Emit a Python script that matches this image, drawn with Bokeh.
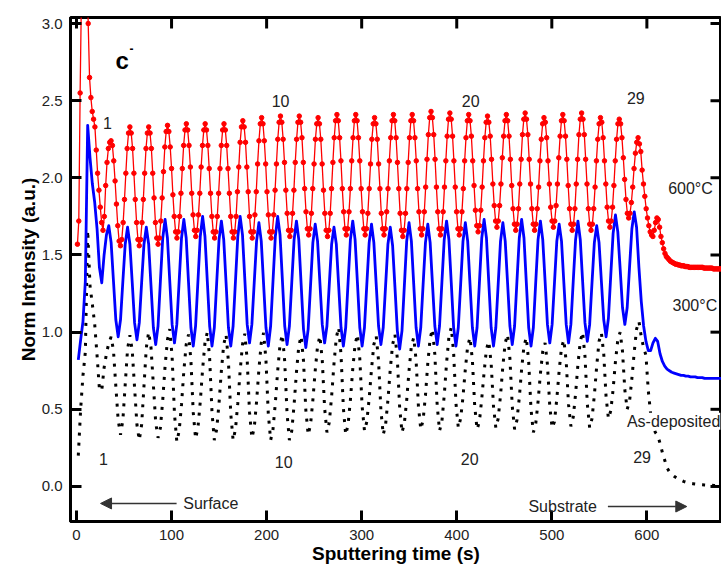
from bokeh.plotting import figure
from bokeh.models import Range1d, FixedTicker, PrintfTickFormatter, Label, Arrow, NormalHead
from bokeh.embed import file_html
from bokeh.resources import INLINE

# ---------------- data ----------------
# 600 °C anneal (red, markers): one reading every RED_DT seconds from RED_T0
RED_T0, RED_DT = 1.0, 1.4143
red_600C = [
    1.57, 1.72, 2.55, 3.2, 3.6, 3.8, 3.7, 3.4, 3.0, 2.65, 2.52, 2.43, 2.38, 2.33, 2.18, 2.03,
    1.92, 1.81, 1.71, 1.66, 1.75, 1.95, 2.10, 2.19, 2.23,
    2.24, 2.21, 2.11, 1.98, 1.83, 1.69, 1.59, 1.56, 1.60, 1.71, 1.86, 2.03, 2.19, 2.29,
    2.33, 2.29, 2.19, 2.03, 1.86, 1.71, 1.60, 1.56, 1.60, 1.71, 1.86, 2.03, 2.19, 2.29,
    2.33, 2.29, 2.19, 2.03, 1.87, 1.71, 1.61, 1.57, 1.61, 1.72, 1.87, 2.04, 2.20, 2.30,
    2.34, 2.30, 2.20, 2.06, 1.89, 1.75, 1.65, 1.61, 1.65, 1.75, 1.90, 2.06, 2.21, 2.31,
    2.35, 2.31, 2.21, 2.07, 1.90, 1.76, 1.66, 1.62, 1.66, 1.76, 1.90, 2.07, 2.21, 2.31,
    2.35, 2.31, 2.21, 2.06, 1.90, 1.75, 1.65, 1.61, 1.65, 1.75, 1.90, 2.06, 2.21, 2.31,
    2.35, 2.31, 2.21, 2.06, 1.90, 1.75, 1.65, 1.61, 1.65, 1.75, 1.91, 2.07, 2.23, 2.33,
    2.37, 2.33, 2.23, 2.07, 1.91, 1.75, 1.65, 1.61, 1.65, 1.76, 1.91, 2.09, 2.24, 2.35,
    2.39, 2.35, 2.24, 2.09, 1.91, 1.76, 1.65, 1.61, 1.65, 1.76, 1.92, 2.09, 2.25, 2.36,
    2.40, 2.36, 2.25, 2.10, 1.92, 1.77, 1.66, 1.62, 1.66, 1.77, 1.92, 2.10, 2.25, 2.36,
    2.40, 2.36, 2.26, 2.10, 1.93, 1.78, 1.67, 1.63, 1.67, 1.77, 1.93, 2.09, 2.25, 2.35,
    2.39, 2.35, 2.25, 2.09, 1.92, 1.77, 1.66, 1.62, 1.66, 1.77, 1.93, 2.10, 2.26, 2.37,
    2.41, 2.37, 2.26, 2.11, 1.93, 1.78, 1.67, 1.63, 1.67, 1.78, 1.93, 2.11, 2.26, 2.37,
    2.41, 2.37, 2.26, 2.11, 1.93, 1.78, 1.67, 1.63, 1.67, 1.77, 1.93, 2.09, 2.25, 2.35,
    2.39, 2.35, 2.25, 2.09, 1.93, 1.77, 1.67, 1.63, 1.67, 1.78, 1.93, 2.11, 2.26, 2.37,
    2.41, 2.37, 2.26, 2.10, 1.93, 1.77, 1.66, 1.62, 1.66, 1.77, 1.93, 2.10, 2.26, 2.37,
    2.41, 2.37, 2.26, 2.11, 1.93, 1.78, 1.67, 1.63, 1.67, 1.78, 1.94, 2.12, 2.28, 2.39,
    2.43, 2.39, 2.28, 2.12, 1.94, 1.78, 1.67, 1.63, 1.67, 1.78, 1.94, 2.11, 2.27, 2.38,
    2.42, 2.38, 2.27, 2.11, 1.94, 1.78, 1.67, 1.63, 1.67, 1.78, 1.93, 2.11, 2.26, 2.37,
    2.41, 2.37, 2.27, 2.11, 1.95, 1.79, 1.69, 1.65, 1.69, 1.79, 1.94, 2.11, 2.26, 2.36,
    2.40, 2.36, 2.27, 2.12, 1.96, 1.82, 1.72, 1.68, 1.72, 1.82, 1.96, 2.13, 2.27, 2.37,
    2.41, 2.37, 2.27, 2.12, 1.95, 1.80, 1.70, 1.66, 1.70, 1.80, 1.96, 2.12, 2.28, 2.38,
    2.42, 2.38, 2.28, 2.12, 1.96, 1.80, 1.70, 1.66, 1.70, 1.80, 1.94, 2.11, 2.25, 2.35,
    2.39, 2.36, 2.26, 2.11, 1.96, 1.81, 1.72, 1.68, 1.72, 1.82, 1.96, 2.13, 2.27, 2.37,
    2.41, 2.37, 2.27, 2.12, 1.95, 1.80, 1.70, 1.66, 1.70, 1.80, 1.96, 2.12, 2.28, 2.38,
    2.42, 2.38, 2.28, 2.12, 1.96, 1.80, 1.70, 1.66, 1.70, 1.80, 1.94, 2.11, 2.25, 2.35,
    2.39, 2.36, 2.26, 2.11, 1.96, 1.81, 1.72, 1.68, 1.72, 1.81, 1.95, 2.11, 2.25, 2.35,
    2.38, 2.35, 2.26, 2.13, 1.99, 1.86, 1.77, 1.74, 1.77, 1.84, 1.94, 2.06, 2.16, 2.23,
    2.26,
    2.22, 2.17, 2.05, 1.96, 1.88, 1.80, 1.74, 1.69, 1.65, 1.63, 1.62, 1.66, 1.71, 1.74, 1.73,
    1.68, 1.62, 1.58, 1.54, 1.51, 1.49, 1.48, 1.47, 1.46, 1.455, 1.45, 1.445, 1.44, 1.44,
    1.435, 1.435, 1.43, 1.43, 1.43, 1.425, 1.425, 1.425, 1.42, 1.42, 1.42, 1.42, 1.42, 1.42,
    1.42, 1.42, 1.42, 1.42, 1.42, 1.415, 1.415, 1.415, 1.415, 1.415, 1.415, 1.415, 1.41,
    1.41, 1.41, 1.41, 1.41, 1.41, 1.41,
]

# 300 °C (blue line) and as-deposited (black dotted) share one time grid
GRID_T0, GRID_DT = 1.9, 2.4675
blue_300C = [
    0.82, 0.95, 1.07, 1.33, 2.34, 2.13, 1.96, 1.84, 1.67, 1.42, 1.32, 1.50, 1.63,
    1.69, 1.58, 1.33, 1.08, 0.97, 1.08, 1.33, 1.57,
    1.68, 1.57, 1.32, 1.06, 0.95, 1.06, 1.32, 1.57,
    1.68, 1.57, 1.30, 1.03, 0.92, 1.04, 1.33, 1.61,
    1.73, 1.61, 1.33, 1.05, 0.93, 1.05, 1.33, 1.61,
    1.73, 1.61, 1.32, 1.03, 0.91, 1.04, 1.33, 1.62,
    1.75, 1.62, 1.33, 1.04, 0.91, 1.03, 1.32, 1.60,
    1.72, 1.60, 1.32, 1.03, 0.91, 1.04, 1.33, 1.62,
    1.75, 1.63, 1.34, 1.05, 0.93, 1.05, 1.32, 1.59,
    1.71, 1.59, 1.31, 1.03, 0.91, 1.04, 1.33, 1.62,
    1.75, 1.63, 1.34, 1.04, 0.92, 1.04, 1.32, 1.60,
    1.72, 1.60, 1.31, 1.02, 0.90, 1.02, 1.30, 1.58,
    1.70, 1.59, 1.32, 1.05, 0.93, 1.04, 1.31, 1.57,
    1.68, 1.57, 1.30, 1.03, 0.91, 1.03, 1.32, 1.60,
    1.72, 1.60, 1.32, 1.03, 0.91, 1.03, 1.31, 1.58,
    1.70, 1.58, 1.31, 1.04, 0.92, 1.03, 1.30, 1.57,
    1.68, 1.56, 1.29, 1.01, 0.89, 1.01, 1.30, 1.59,
    1.71, 1.59, 1.31, 1.03, 0.91, 1.03, 1.31, 1.58,
    1.70, 1.58, 1.31, 1.04, 0.92, 1.04, 1.32, 1.60,
    1.72, 1.60, 1.32, 1.03, 0.91, 1.03, 1.31, 1.59,
    1.71, 1.59, 1.31, 1.03, 0.91, 1.03, 1.32, 1.61,
    1.73, 1.61, 1.32, 1.03, 0.91, 1.03, 1.31, 1.59,
    1.71, 1.59, 1.32, 1.04, 0.92, 1.04, 1.33, 1.61,
    1.73, 1.61, 1.32, 1.03, 0.91, 1.03, 1.32, 1.60,
    1.72, 1.60, 1.33, 1.05, 0.93, 1.05, 1.32, 1.59,
    1.70, 1.59, 1.32, 1.05, 0.93, 1.05, 1.33, 1.60,
    1.72, 1.60, 1.33, 1.06, 0.94, 1.05, 1.32, 1.58,
    1.69, 1.58, 1.33, 1.08, 0.97, 1.09, 1.37, 1.64,
    1.76, 1.65, 1.41, 1.16, 1.05, 1.16, 1.42, 1.67,
    1.78,
    1.68, 1.42, 1.20, 1.04, 0.94, 0.88, 0.88, 0.93, 0.96, 0.94,
    0.86, 0.81, 0.78, 0.76, 0.75, 0.74, 0.735, 0.73, 0.725, 0.72,
    0.72, 0.715, 0.715, 0.71, 0.71, 0.71, 0.705, 0.705, 0.705, 0.70,
    0.70, 0.70, 0.70, 0.70, 0.70, 0.70, 0.70,
]

black_asdep = [
    0.20, 0.50, 0.72, 0.87, 1.66, 1.30, 1.18, 1.05, 0.85, 0.63, 0.62, 0.77, 0.86, 0.93,
    0.97, 0.88, 0.65, 0.43, 0.335, 0.43, 0.66, 0.89,
    0.98, 0.88, 0.64, 0.40, 0.30, 0.40, 0.65, 0.90,
    1.00, 0.90, 0.66, 0.415, 0.315, 0.38, 0.56, 0.78, 0.95,
    1.02, 0.84, 0.47, 0.29, 0.36, 0.53, 0.75, 0.92,
    0.985, 0.82, 0.48, 0.31, 0.38, 0.55, 0.76, 0.93,
    1.00, 0.83, 0.48, 0.30, 0.37, 0.54, 0.75, 0.92,
    0.985, 0.81, 0.47, 0.30, 0.37, 0.54, 0.75, 0.92,
    0.99, 0.82, 0.48, 0.315, 0.38, 0.55, 0.76, 0.93,
    0.995, 0.82, 0.47, 0.30, 0.37, 0.54, 0.75, 0.92,
    0.985, 0.81, 0.47, 0.30, 0.36, 0.53, 0.74, 0.91,
    0.975, 0.815, 0.495, 0.335, 0.40, 0.56, 0.75, 0.91,
    0.975, 0.82, 0.51, 0.35, 0.415, 0.585, 0.795, 0.965,
    1.03, 0.856, 0.51, 0.335, 0.40, 0.56, 0.76, 0.92,
    0.985, 0.83, 0.52, 0.36, 0.42, 0.57, 0.76, 0.92,
    0.975, 0.815, 0.495, 0.335, 0.40, 0.56, 0.76, 0.92,
    0.985, 0.83, 0.51, 0.35, 0.41, 0.56, 0.75, 0.91,
    0.965, 0.82, 0.52, 0.37, 0.43, 0.59, 0.80, 0.96,
    1.02, 0.855, 0.525, 0.36, 0.42, 0.59, 0.80, 0.97,
    1.03, 0.87, 0.54, 0.38, 0.44, 0.58, 0.76, 0.91,
    0.965, 0.82, 0.52, 0.37, 0.42, 0.57, 0.74, 0.89,
    0.94, 0.80, 0.52, 0.38, 0.44, 0.59, 0.78, 0.93,
    0.985, 0.83, 0.52, 0.37, 0.43, 0.575, 0.76, 0.91,
    0.965, 0.81, 0.50, 0.35, 0.405, 0.55, 0.73, 0.875,
    0.93, 0.79, 0.52, 0.38, 0.42, 0.57, 0.75, 0.90,
    0.95, 0.81, 0.53, 0.39, 0.45, 0.60, 0.79, 0.94,
    1.00, 0.845, 0.535, 0.38, 0.44, 0.59, 0.78, 0.94,
    0.995, 0.86, 0.58, 0.44, 0.49, 0.63, 0.81, 0.95,
    1.00, 0.875, 0.625, 0.50, 0.55, 0.70, 0.87, 1.02,
    1.07,
    0.97, 0.90, 0.85, 0.62, 0.47, 0.40, 0.35, 0.33, 0.28, 0.22,
    0.17, 0.12, 0.095, 0.078, 0.066, 0.056, 0.047, 0.040, 0.033, 0.028,
    0.023, 0.020, 0.018, 0.016, 0.014, 0.012, 0.011, 0.010, 0.009, 0.008,
    0.008, 0.007, 0.007, 0.007, 0.006,
]

x_ticks = [0, 100, 200, 300, 400, 500, 600]
y_ticks = [0.0, 0.5, 1.0, 1.5, 2.0, 2.5, 3.0]

layer_numbers = ["1", "10", "20", "29"]
layer_numbers_upper_x = [32.6, 214.7, 414.7, 588.4]
layer_numbers_upper_y = [2.357, 2.495, 2.495, 2.516]
layer_numbers_lower_x = [28.4, 217.9, 413.7, 595.0]
layer_numbers_lower_y = [0.179, 0.157, 0.180, 0.190]

series_names = ["600°C", "300°C", "As-deposited"]
series_name_x = [622.4, 627.0, 579.0]
series_name_y = [1.932, 1.170, 0.422]

red_time = [round(RED_T0 + i * RED_DT, 3) for i in range(len(red_600C))]
grid_time = [round(GRID_T0 + i * GRID_DT, 3) for i in range(len(blue_300C))]

# ---------------- figure ----------------
FONT = "Liberation Sans"
TXT = "#222222"
X0, X1 = -6.3, 678.5
Y0, Y1 = -0.227, 3.039
FRAME_W, FRAME_H = 651, 503      # frame size in px, used to size mirrored tick marks
TICK_PX = 11

p = figure(width=721, height=566,
           x_range=Range1d(X0, X1), y_range=Range1d(Y0, Y1),
           output_backend="svg", toolbar_location=None,
           min_border_left=70, min_border_right=0, min_border_top=17, min_border_bottom=0,
           x_axis_label="Sputtering time (s)", y_axis_label="Norm Intensity (a.u.)")
p.grid.visible = False
p.outline_line_color = "black"
p.outline_line_width = 3
p.background_fill_color = "white"
p.border_fill_color = "white"

for ax, ticks in ((p.xaxis[0], x_ticks), (p.yaxis[0], y_ticks)):
    ax.ticker = FixedTicker(ticks=ticks)
    ax.axis_line_width = 3
    ax.axis_line_color = "black"
    ax.major_tick_line_width = 3
    ax.major_tick_line_color = "black"
    ax.major_tick_in = TICK_PX
    ax.major_tick_out = 0
    ax.minor_tick_line_color = None
    ax.major_label_text_font = FONT
    ax.major_label_text_font_size = "15px"
    ax.major_label_text_color = TXT
    ax.major_label_standoff = 8
    ax.axis_label_text_font = FONT
    ax.axis_label_text_font_style = "bold"
    ax.axis_label_text_font_size = "19px"
    ax.axis_label_text_color = "black"
    ax.axis_label_standoff = 0
p.yaxis[0].formatter = PrintfTickFormatter(format="%.1f")

# mirrored tick marks on the top and right frame edges (from the tick lists)
dy = TICK_PX * (Y1 - Y0) / FRAME_H
dx = TICK_PX * (X1 - X0) / FRAME_W
p.segment(x0=x_ticks, y0=[Y1] * len(x_ticks), x1=x_ticks, y1=[Y1 - dy] * len(x_ticks),
          line_color="black", line_width=3)
p.segment(x0=[X1] * len(y_ticks), y0=y_ticks, x1=[X1 - dx] * len(y_ticks), y1=y_ticks,
          line_color="black", line_width=3)

# ---------------- series ----------------
p.line(grid_time, black_asdep, line_color="black", line_width=3, line_dash="3 7")
p.line(grid_time, blue_300C, line_color="#0000ff", line_width=2.8, line_join="round")
p.line(red_time, red_600C, line_color="#ff0000", line_width=1.3)
p.scatter(red_time, red_600C, marker="circle", size=4.5,
          fill_color="#ff0000", line_color="#ff0000")

# ---------------- annotations ----------------
for txt, x, y in zip(layer_numbers, layer_numbers_upper_x, layer_numbers_upper_y):
    p.add_layout(Label(x=x, y=y, text=txt, text_font=FONT, text_font_size="16px",
                       text_color=TXT, text_align="center", text_baseline="middle"))
for txt, x, y in zip(layer_numbers, layer_numbers_lower_x, layer_numbers_lower_y):
    p.add_layout(Label(x=x, y=y, text=txt, text_font=FONT, text_font_size="16px",
                       text_color=TXT, text_align="center", text_baseline="middle"))

for txt, x, y in zip(series_names, series_name_x, series_name_y):
    lab = Label(x=x, y=y, text=txt, text_font=FONT, text_font_size="16px",
                text_color=TXT, text_align="left", text_baseline="middle")
    if txt == "As-deposited":
        lab.background_fill_color = "white"
    p.add_layout(lab)

p.add_layout(Label(x=41, y=2.76, text="c", text_font=FONT, text_font_size="24px",
                   text_font_style="bold", text_color="black",
                   text_align="left", text_baseline="alphabetic"))
p.add_layout(Label(x=57.9, y=2.84, text="-", text_font=FONT, text_font_size="12px",
                   text_font_style="bold", text_color="black",
                   text_align="center", text_baseline="middle"))

p.add_layout(Label(x=112.3, y=-0.11, text="Surface", text_font=FONT, text_font_size="16px",
                   text_color=TXT, text_align="left", text_baseline="middle"))
p.add_layout(Label(x=475.4, y=-0.13, text="Substrate", text_font=FONT, text_font_size="16px",
                   text_color=TXT, text_align="left", text_baseline="middle"))

p.add_layout(Arrow(end=NormalHead(size=11, fill_color="#333333", line_color="#333333"),
                   x_start=105.3, y_start=-0.11, x_end=25.3, y_end=-0.11,
                   line_color="#333333", line_width=1.5))
p.add_layout(Arrow(end=NormalHead(size=11, fill_color="#333333", line_color="#333333"),
                   x_start=559.0, y_start=-0.13, x_end=642.0, y_end=-0.13,
                   line_color="#333333", line_width=1.5))

html = file_html(p, INLINE, title="Norm Intensity")
open("out.html", "w").write(html)
